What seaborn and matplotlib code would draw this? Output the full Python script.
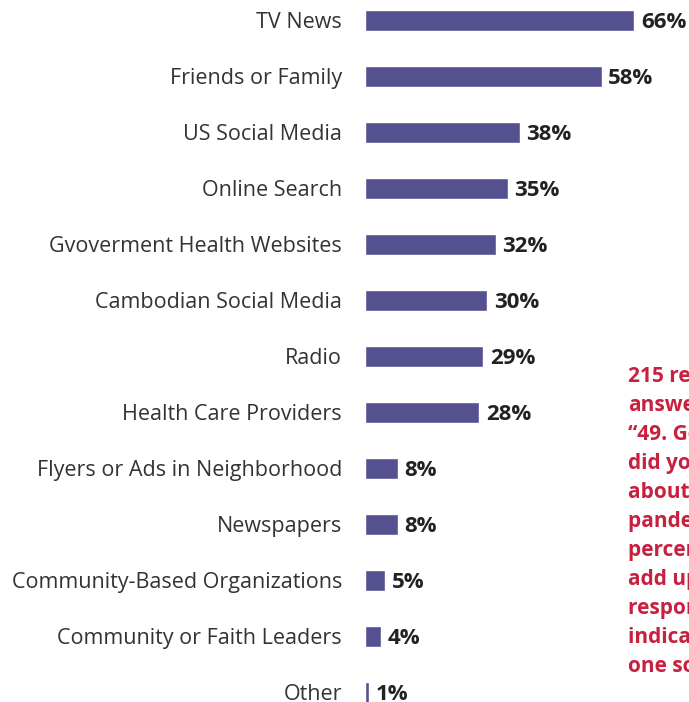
import matplotlib
matplotlib.use("Agg")
import matplotlib.pyplot as plt
import seaborn as sns
import pandas as pd

sources = [
    "TV News", "Friends or Family", "US Social Media", "Online Search",
    "Gvoverment Health Websites", "Cambodian Social Media", "Radio",
    "Health Care Providers", "Flyers or Ads in Neighborhood", "Newspapers",
    "Community-Based Organizations", "Community or Faith Leaders", "Other",
]
percents = [66, 58, 38, 35, 32, 30, 29, 28, 8, 8, 5, 4, 1]

note_lines = [
    "215 respondents",
    "answered",
    "\u201c49. Generally, where",
    "did you get information",
    "about the COVID-19",
    "pandemic?\u201d Note:",
    "percentages do not",
    "add up to 100% as",
    "respondents could",
    "indicate more than",
    "one source.",
]

BAR = "#55508f"
TEXT = "#333333"
NOTE = "#c8203f"

sns.set_theme(style="white")
plt.rcParams["font.family"] = ["Open Sans", "DejaVu Sans"]

df = pd.DataFrame({"source": sources, "pct": percents})

W, H = 689, 702
fig = plt.figure(figsize=(W / 100, H / 100), dpi=100)
left_px = 365
ax = fig.add_axes([left_px / W, 0, 1 - left_px / W, 1])

px_per_unit = 4.08
row = 56
sns.barplot(data=df, x="pct", y="source", color=BAR, width=21 / row,
            saturation=1, ax=ax, orient="h")

ax.set_xlim(0, (W - left_px) / px_per_unit)
ax.set_ylim(12 + (H - 692) / row, -20 / row)

for s in ax.spines.values():
    s.set_visible(False)
ax.set_xticks([])
ax.set_xlabel("")
ax.set_ylabel("")
ax.tick_params(axis="y", length=0, pad=16.5, labelsize=15.5, labelcolor=TEXT)
for lbl in ax.get_yticklabels():
    lbl.set_verticalalignment("center_baseline")

for i, v in enumerate(percents):
    ax.text(v + 1.6, i, f"{v}%", va="center_baseline", ha="left", fontsize=16,
            fontweight="bold", color="#222222")

fig.text(628 / W, 1 - 366 / H, "\n".join(note_lines), ha="left", va="top",
         fontsize=15, fontweight="bold", color=NOTE, linespacing=1.5)

fig.savefig("out.png", dpi=100)
